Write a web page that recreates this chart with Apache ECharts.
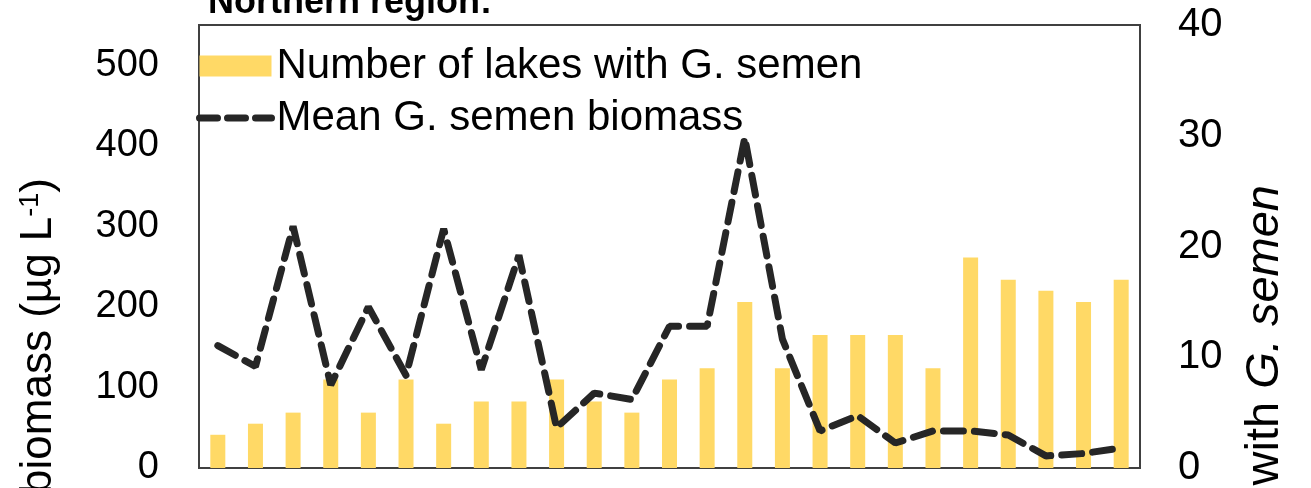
<!DOCTYPE html>
<html>
<head>
<meta charset="utf-8">
<script src="https://cdn.jsdelivr.net/npm/echarts@6/dist/echarts.min.js"></script>
<style>
  html, body { margin: 0; padding: 0; background: #fff; }
  #chart { width: 1311px; height: 488px; }
</style>
</head>
<body>
<div id="chart"></div>
<script>
// lake groups along the x axis (no labels shown)
const groups = [];
for (let i = 1; i <= 25; i++) groups.push('L' + i);

// number of lakes with G. semen (right axis)
const lakeCount = [3, 4, 5, 8, 5, 8, 4, 6, 6, 8, 6, 5, 8, 9, 15, 9, 12, 12, 12, 9, 19, 17, 16, 15, 17];

// mean G. semen biomass, ug/L (left axis)
const meanBiomass = [152, 126, 300, 103, 200, 115, 297, 122, 264, 50, 93, 85, 176, 176, 410, 160, 46, 65, 31, 46, 46, 41, 15, 18, 25];

const leftTicks = [0, 100, 200, 300, 400, 500];
const rightTicks = [0, 10, 20, 30, 40];

const FONT = 'Liberation Sans, Arial, sans-serif';
const chart = echarts.init(document.getElementById('chart'));

const option = {
  animation: false,
  grid: {
    left: 199, right: 171, top: 25, bottom: 17,
    show: true, borderColor: '#404040', borderWidth: 2, backgroundColor: 'transparent'
  },
  legend: {
    orient: 'vertical', left: 191, top: 40,
    itemWidth: 72, itemHeight: 21, itemGap: 10,
    selectedMode: false,
    textStyle: { fontFamily: FONT, fontSize: 42, color: '#000' },
    data: [
      { name: 'Number of lakes with G. semen', icon: 'rect' },
      {
        name: 'Mean G. semen biomass',
        itemStyle: { opacity: 0 },
        lineStyle: { color: '#262626', width: 7, type: [18, 10], cap: 'round' }
      }
    ]
  },
  xAxis: {
    type: 'category', data: groups,
    axisLine: { lineStyle: { color: '#404040', width: 2 } },
    axisTick: { show: false }, axisLabel: { show: false }
  },
  yAxis: [{
    type: 'value', min: 0, max: 550, interval: 100,
    splitLine: { show: false }, axisLine: { show: false }, axisTick: { show: false },
    axisLabel: {
      fontFamily: FONT, fontSize: 38, color: '#000', margin: 40,
      formatter: v => leftTicks.indexOf(v) >= 0 ? String(v) : ''
    }
  }, {
    type: 'value', min: 0, max: 40, interval: 10,
    splitLine: { show: false }, axisLine: { show: false }, axisTick: { show: false },
    axisLabel: {
      fontFamily: FONT, fontSize: 40, color: '#000', margin: 38,
      formatter: v => rightTicks.indexOf(v) >= 0 ? String(v) : ''
    }
  }],
  series: [{
    name: 'Number of lakes with G. semen', type: 'bar', yAxisIndex: 1,
    data: lakeCount, barWidth: 15, itemStyle: { color: '#FFD966' }
  }, {
    name: 'Mean G. semen biomass', type: 'line', yAxisIndex: 0,
    data: meanBiomass, symbol: 'none',
    lineStyle: { color: '#262626', width: 7, type: [20, 11], cap: 'round' },
    itemStyle: { color: '#262626' }
  }],
  graphic: [{
    type: 'text', left: 208, top: -15,
    style: { text: 'Northern region:', fontFamily: FONT, fontSize: 36, fontWeight: 'bold', fill: '#000' }
  }, {
    type: 'text', x: 39, y: 178, rotation: Math.PI / 2,
    style: {
      text: '{a|biomass (µg L}{s|-1}{a|)}',
      align: 'right', verticalAlign: 'middle',
      rich: {
        a: { fontFamily: FONT, fontSize: 44, fill: '#000' },
        s: { fontFamily: FONT, fontSize: 27, fill: '#000', verticalAlign: 'top', padding: [0, 0, 15, 0] }
      }
    }
  }, {
    type: 'text', x: 1265, y: 185, rotation: Math.PI / 2,
    style: {
      text: '{a|with }{i|G. semen}',
      align: 'right', verticalAlign: 'middle',
      rich: {
        a: { fontFamily: FONT, fontSize: 47, fill: '#000' },
        i: { fontFamily: FONT, fontSize: 47, fontStyle: 'italic', fill: '#000' }
      }
    }
  }]
};

chart.setOption(option);
</script>
</body>
</html>
